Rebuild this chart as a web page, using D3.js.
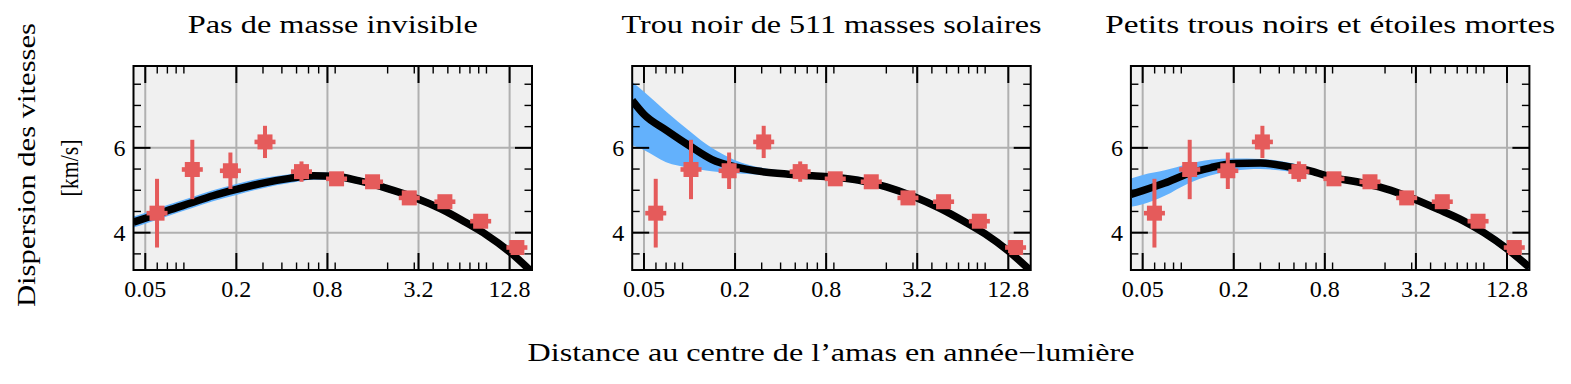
<!DOCTYPE html>
<html>
<head>
<meta charset="utf-8">
<script src="https://cdn.jsdelivr.net/npm/d3@7"></script>
<style>
  html, body { margin: 0; padding: 0; background: #ffffff; }
  svg { display: block; }
  text { font-family: "Liberation Serif", "Times New Roman", serif; fill: #000; }
</style>
</head>
<body>
<svg id="chart" width="1571" height="384"></svg>
<script>
// ---------------- data ----------------
const panelTitles = ["Pas de masse invisible", "Trou noir de 511 masses solaires", "Petits trous noirs et étoiles mortes"];

// measured velocity dispersion (km/s) vs distance (light-years)
const pointX   = [0.0598, 0.1023, 0.1827, 0.3093, 0.539, 0.919, 1.59, 2.78, 4.78, 8.24, 14.3];
const pointY   = [4.46, 5.49, 5.46, 6.14, 5.44, 5.27, 5.20, 4.82, 4.73, 4.27, 3.65];
const pointErr = [0.81, 0.70, 0.43, 0.38, 0.24, 0.12, 0.10, 0.10, 0.10, 0.10, 0.10];

// model curves sampled along distance
const curveX = [0.0418, 0.05, 0.07, 0.1, 0.14, 0.2, 0.3, 0.45, 0.65, 0.9, 1.3, 2, 3, 4.5, 6.5, 9, 12.8, 18];

const noMassY    = [4.25, 4.34, 4.52, 4.70, 4.87, 5.02, 5.17, 5.28, 5.34, 5.33, 5.22, 5.04, 4.83, 4.56, 4.25, 3.95, 3.55, 3.07];
const noMassLow  = [4.12, 4.21, 4.39, 4.57, 4.74, 4.89, 5.05, 5.17, 5.25, 5.25, 5.14, 4.96, 4.75, 4.48, 4.17, 3.87, 3.47, 2.99];
const noMassHigh = [4.38, 4.47, 4.65, 4.83, 5.00, 5.15, 5.29, 5.38, 5.42, 5.41, 5.30, 5.12, 4.91, 4.64, 4.33, 4.03, 3.63, 3.15];

const blackHoleY    = [7.12, 6.79, 6.42, 6.05, 5.73, 5.55, 5.44, 5.38, 5.34, 5.31, 5.24, 5.08, 4.86, 4.58, 4.27, 3.97, 3.57, 3.10];
const blackHoleLow  = [6.06, 5.95, 5.66, 5.53, 5.45, 5.40, 5.36, 5.31, 5.28, 5.24, 5.16, 5.00, 4.78, 4.50, 4.19, 3.88, 3.48, 3.01];
const blackHoleHigh = [7.55, 7.32, 6.86, 6.40, 6.00, 5.71, 5.53, 5.45, 5.40, 5.38, 5.32, 5.16, 4.94, 4.66, 4.35, 4.05, 3.65, 3.18];

const stellarY    = [4.90, 4.99, 5.17, 5.39, 5.53, 5.63, 5.64, 5.56, 5.45, 5.30, 5.20, 5.04, 4.82, 4.55, 4.29, 4.00, 3.62, 3.18];
const stellarLow  = [4.61, 4.67, 4.87, 5.16, 5.35, 5.46, 5.50, 5.45, 5.37, 5.23, 5.13, 4.97, 4.75, 4.48, 4.21, 3.91, 3.52, 3.07];
const stellarHigh = [5.28, 5.36, 5.47, 5.62, 5.72, 5.75, 5.74, 5.66, 5.53, 5.37, 5.27, 5.11, 4.89, 4.62, 4.37, 4.09, 3.72, 3.29];

const xTicks = [0.05, 0.2, 0.8, 3.2, 12.8];
const xTickLabels = ["0.05", "0.2", "0.8", "3.2", "12.8"];
const yTicks = [4, 6];
const yTickLabels = ["4", "6"];
const xDomain = [0.0418, 18.0];
const yDomain = [3.12, 7.93];

const xLabel = "Distance au centre de l\u2019amas en ann\u00e9e\u2212lumi\u00e8re";
const yLabel1 = "Dispersion des vitesses";
const yLabel2 = "[km/s]";

// ---------------- layout ----------------
const models = [
  { y: noMassY, lo: noMassLow, hi: noMassHigh },
  { y: blackHoleY, lo: blackHoleLow, hi: blackHoleHigh },
  { y: stellarY, lo: stellarLow, hi: stellarHigh }
];
const panelLeft = [133.5, 632.2, 1130.9];
const panelW = 398.5;
const axTop = 66, axBottom = 270;
const titleWidths = [290, 420, 450];

const C = {
  bg: "#f0f0f0", grid: "#b0b0b0", band: "#63b1fc", line: "#000000", point: "#e55b5b"
};

const svg = d3.select("#chart");
svg.append("rect").attr("width", 1571).attr("height", 384).attr("fill", "#fff");

const y = d3.scaleLinear().domain(yDomain).range([axBottom, axTop]);

// minor ticks
const minorX = [];
for (let k = -2; k <= 1; k++) for (let m = 2; m <= 9; m++) {
  const v = +(m * Math.pow(10, k)).toPrecision(6);
  if (v >= xDomain[0] && v <= xDomain[1] && !xTicks.some(t => Math.abs(t - v) < 1e-9)) minorX.push(v);
}
const minorY = d3.range(3.5, 7.9, 0.5).filter(v => !yTicks.includes(v));

const MAJ = 17, MIN = 7.5;

models.forEach((mod, i) => {
  const L = panelLeft[i], R = L + panelW;
  const x = d3.scaleLog().domain(xDomain).range([L, R]);
  const g = svg.append("g");

  const clipId = "clip" + i;
  svg.append("clipPath").attr("id", clipId)
    .append("rect").attr("x", L).attr("y", axTop).attr("width", panelW).attr("height", axBottom - axTop);

  g.append("rect").attr("x", L).attr("y", axTop).attr("width", panelW).attr("height", axBottom - axTop).attr("fill", C.bg);

  // grid
  g.selectAll(".gx").data(xTicks).join("line")
    .attr("x1", d => x(d)).attr("x2", d => x(d)).attr("y1", axTop).attr("y2", axBottom)
    .attr("stroke", C.grid).attr("stroke-width", 2);
  g.selectAll(".gy").data(yTicks).join("line")
    .attr("x1", L).attr("x2", R).attr("y1", d => y(d)).attr("y2", d => y(d))
    .attr("stroke", C.grid).attr("stroke-width", 2);

  const plot = g.append("g").attr("clip-path", `url(#${clipId})`);
  const idx = d3.range(curveX.length);
  const area = d3.area().curve(d3.curveMonotoneX)
    .x(j => x(curveX[j])).y0(j => y(mod.lo[j])).y1(j => y(mod.hi[j]));
  plot.append("path").attr("d", area(idx)).attr("fill", C.band);
  const line = d3.line().curve(d3.curveMonotoneX)
    .x(j => x(curveX[j])).y(j => y(mod.y[j]));
  plot.append("path").attr("d", line(idx)).attr("fill", "none")
    .attr("stroke", C.line).attr("stroke-width", 7.5);

  // data points with error bars
  const pts = plot.append("g").attr("fill", C.point);
  pointX.forEach((px, j) => {
    const cx = x(px), cy = y(pointY[j]);
    const yt = y(pointY[j] + pointErr[j]), yb = y(pointY[j] - pointErr[j]);
    pts.append("rect").attr("x", cx - 2).attr("y", yt).attr("width", 4).attr("height", yb - yt);
    pts.append("rect").attr("x", cx - 10.5).attr("y", cy - 2.3).attr("width", 21).attr("height", 4.6);
    pts.append("rect").attr("x", cx - 7.5).attr("y", cy - 7.5).attr("width", 15).attr("height", 15);
  });

  // ticks (inward, all sides)
  const tk = g.append("g").attr("stroke", "#000");
  xTicks.forEach(v => {
    tk.append("line").attr("x1", x(v)).attr("x2", x(v)).attr("y1", axBottom).attr("y2", axBottom - MAJ).attr("stroke-width", 2);
    tk.append("line").attr("x1", x(v)).attr("x2", x(v)).attr("y1", axTop).attr("y2", axTop + MAJ).attr("stroke-width", 2);
  });
  minorX.forEach(v => {
    tk.append("line").attr("x1", x(v)).attr("x2", x(v)).attr("y1", axBottom).attr("y2", axBottom - MIN).attr("stroke-width", 1.4);
    tk.append("line").attr("x1", x(v)).attr("x2", x(v)).attr("y1", axTop).attr("y2", axTop + MIN).attr("stroke-width", 1.4);
  });
  yTicks.forEach(v => {
    tk.append("line").attr("x1", L).attr("x2", L + MAJ).attr("y1", y(v)).attr("y2", y(v)).attr("stroke-width", 2);
    tk.append("line").attr("x1", R).attr("x2", R - MAJ).attr("y1", y(v)).attr("y2", y(v)).attr("stroke-width", 2);
  });
  minorY.forEach(v => {
    tk.append("line").attr("x1", L).attr("x2", L + MIN).attr("y1", y(v)).attr("y2", y(v)).attr("stroke-width", 1.4);
    tk.append("line").attr("x1", R).attr("x2", R - MIN).attr("y1", y(v)).attr("y2", y(v)).attr("stroke-width", 1.4);
  });

  // frame
  g.append("rect").attr("x", L).attr("y", axTop).attr("width", panelW).attr("height", axBottom - axTop)
    .attr("fill", "none").attr("stroke", "#000").attr("stroke-width", 2);

  // tick labels
  g.selectAll(".xl").data(xTicks).join("text")
    .attr("x", d => x(d)).attr("y", 297).attr("text-anchor", "middle")
    .attr("font-size", 24).text((d, k) => xTickLabels[k]);
  g.selectAll(".yl").data(yTicks).join("text")
    .attr("x", L - 8).attr("y", d => y(d) + 8).attr("text-anchor", "end")
    .attr("font-size", 24).text((d, k) => yTickLabels[k]);

  // title
  g.append("text").attr("x", (L + R) / 2).attr("y", 32.5).attr("text-anchor", "middle")
    .attr("font-size", 25).attr("textLength", titleWidths[i]).attr("lengthAdjust", "spacingAndGlyphs")
    .text(panelTitles[i]);
});

// axis labels
svg.append("text").attr("x", 831).attr("y", 361).attr("text-anchor", "middle")
  .attr("font-size", 25).attr("textLength", 607).attr("lengthAdjust", "spacingAndGlyphs").text(xLabel);
svg.append("text").attr("transform", "translate(35,165) rotate(-90)").attr("text-anchor", "middle")
  .attr("font-size", 25).attr("textLength", 284).attr("lengthAdjust", "spacingAndGlyphs").text(yLabel1);
svg.append("text").attr("transform", "translate(78,168) rotate(-90)").attr("text-anchor", "middle")
  .attr("font-size", 25).attr("textLength", 57).attr("lengthAdjust", "spacingAndGlyphs").text(yLabel2);
</script>
</body>
</html>
